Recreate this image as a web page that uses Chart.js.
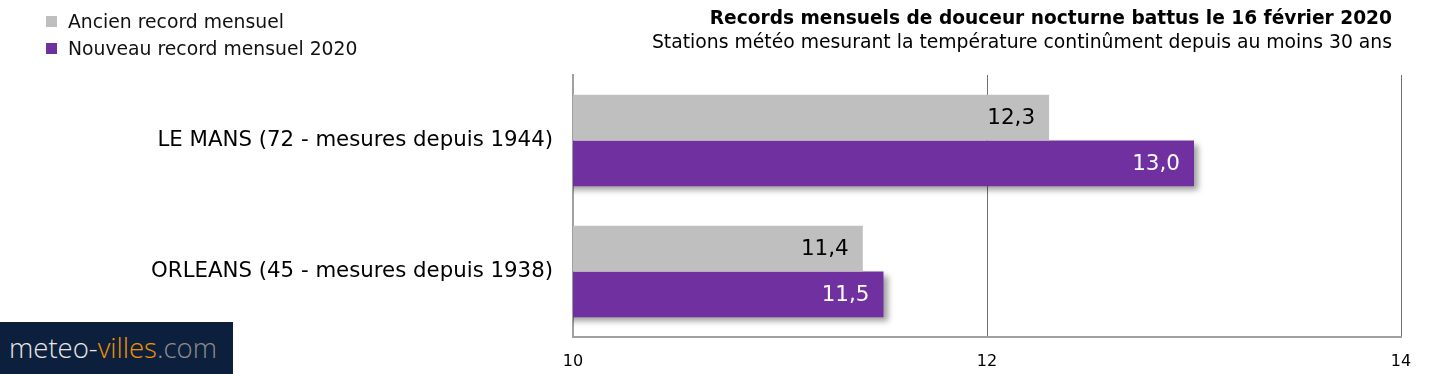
<!DOCTYPE html>
<html>
<head>
<meta charset="utf-8">
<script src="https://cdn.jsdelivr.net/npm/chart.js@4/dist/chart.umd.min.js"></script>
<style>
  html, body { margin: 0; padding: 0; background: #fff; }
  #wrap { position: relative; width: 1438px; height: 374px; overflow: hidden; font-family: "DejaVu Sans", Verdana, sans-serif; }
  canvas { position: absolute; left: 0; top: 0; }
  .legend { position: absolute; left: 46px; font-size: 18.8px; color: #111; white-space: nowrap; line-height: 22px; }
  .legend span.sw { display: inline-block; width: 11px; height: 11px; margin-right: 11px; vertical-align: 1px; }
  .title { position: absolute; right: 46px; top: 6px; font-size: 18.6px; font-weight: bold; color: #000; white-space: nowrap; line-height: 24px; }
  .subtitle { position: absolute; right: 46px; top: 30px; font-size: 18.8px; color: #000; white-space: nowrap; line-height: 24px; }
  .logo { position: absolute; left: 0; top: 322px; width: 233px; height: 52px; background: #0c1f3d; font-family: "Open Sans", sans-serif; font-weight: 300; font-size: 27.5px; line-height: 52px; padding-left: 9px; box-sizing: border-box; white-space: nowrap; }
</style>
</head>
<body>
<div id="wrap">
  <canvas id="c" width="1438" height="374"></canvas>
  <div class="legend" style="top:11px"><span class="sw" style="background:#bfbfbf"></span>Ancien record mensuel</div>
  <div class="legend" style="top:38px"><span class="sw" style="background:#7030a0"></span>Nouveau record mensuel 2020</div>
  <div class="title">Records mensuels de douceur nocturne battus le 16 février 2020</div>
  <div class="subtitle">Stations météo mesurant la température continûment depuis au moins 30 ans</div>
  <div class="logo"><span style="color:#e6e6e6">meteo-</span><span style="color:#f39200">villes</span><span style="color:#8c8c8c">.com</span></div>
</div>
<script>
const categories = ["LE MANS (72 - mesures depuis 1944)", "ORLEANS (45 - mesures depuis 1938)"];
const seriesNames = ["Ancien record mensuel", "Nouveau record mensuel 2020"];
const ancienRecord = [12.3, 11.4];
const nouveauRecord = [13.0, 11.5];
const xTicks = [10, 12, 14];

const fmt = v => v.toFixed(1).replace('.', ',');

const shadowPlugin = {
  id: 'barShadow',
  beforeDatasetDraw(chart, args) {
    const ctx = chart.ctx;
    ctx.save();
    if (args.index === 1) {
      ctx.shadowColor = 'rgba(0,0,0,0.38)';
      ctx.shadowBlur = 6;
      ctx.shadowOffsetX = 4;
      ctx.shadowOffsetY = 4;
    }
  },
  afterDatasetDraw(chart) {
    chart.ctx.restore();
  }
};

const labelPlugin = {
  id: 'valueLabels',
  afterDatasetsDraw(chart) {
    const ctx = chart.ctx;
    ctx.save();
    ctx.font = '21.5px "DejaVu Sans", sans-serif';
    ctx.textAlign = 'right';
    ctx.textBaseline = 'middle';
    chart.data.datasets.forEach((ds, i) => {
      const meta = chart.getDatasetMeta(i);
      meta.data.forEach((bar, j) => {
        ctx.fillStyle = i === 1 ? '#ffffff' : '#000000';
        ctx.fillText(fmt(ds.data[j]), bar.x - 14, bar.y + 1);
      });
    });
    ctx.restore();
  }
};

new Chart(document.getElementById('c'), {
  type: 'bar',
  data: {
    labels: categories,
    datasets: [
      { label: seriesNames[0], data: ancienRecord, backgroundColor: '#bfbfbf', borderWidth: 0 },
      { label: seriesNames[1], data: nouveauRecord, backgroundColor: '#7030a0', borderWidth: 0 }
    ]
  },
  options: {
    indexAxis: 'y',
    responsive: false,
    animation: false,
    layout: { padding: { left: 0, right: 37, top: 75, bottom: 0 } },
    plugins: { legend: { display: false }, title: { display: false }, tooltip: { enabled: false } },
    datasets: { bar: { categoryPercentage: 0.7, barPercentage: 1.0 } },
    scales: {
      x: {
        min: 10, max: 14,
        afterBuildTicks: s => { s.ticks = xTicks.map(v => ({ value: v })); },
        afterFit: s => { s.height = 37; },
        grid: { color: '#707070', lineWidth: 1, drawTicks: false },
        border: { color: '#a0a0a0', width: 2 },
        ticks: { padding: 15, color: '#000', font: { family: '"DejaVu Sans", sans-serif', size: 16 } }
      },
      y: {
        afterFit: s => { s.width = 573; },
        grid: { display: false, drawTicks: false },
        border: { color: '#a0a0a0', width: 2 },
        ticks: { padding: 20, color: '#000', font: { family: '"DejaVu Sans", sans-serif', size: 21.3 } }
      }
    }
  },
  plugins: [shadowPlugin, labelPlugin]
});
</script>
</body>
</html>
